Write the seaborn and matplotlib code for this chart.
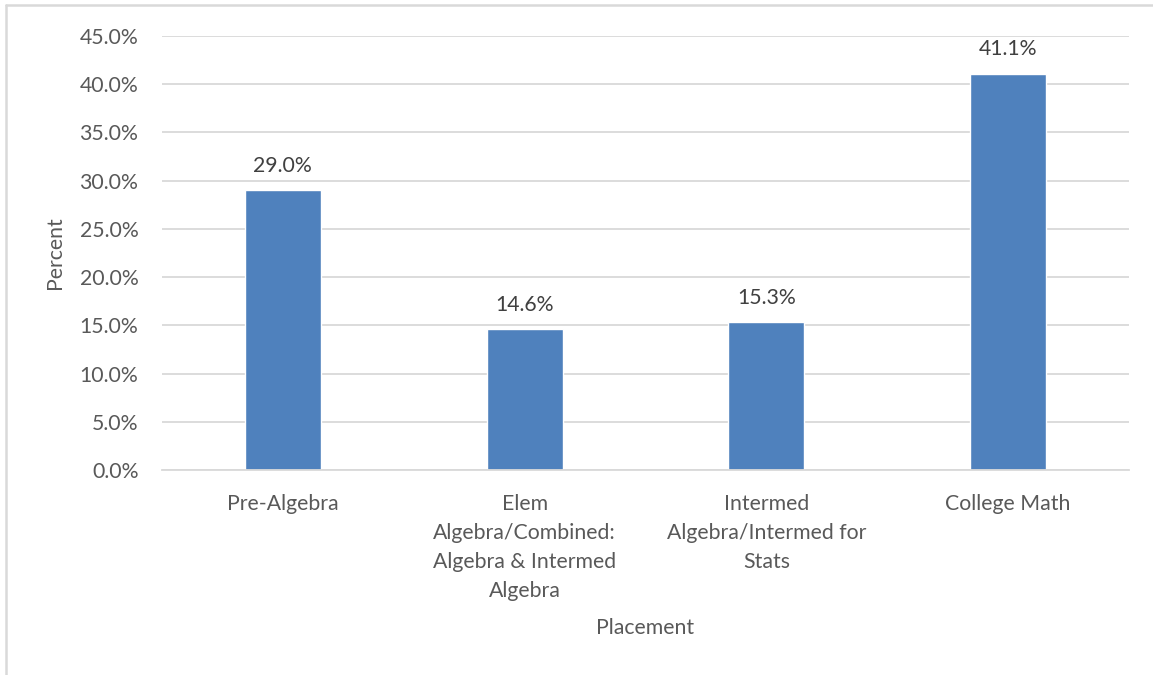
import matplotlib
matplotlib.use("Agg")
import matplotlib.pyplot as plt
from matplotlib.lines import Line2D
from matplotlib.ticker import MultipleLocator, FuncFormatter
import seaborn as sns
import pandas as pd

placements = [
    "Pre-Algebra",
    "Elem\nAlgebra/Combined:\nAlgebra & Intermed\nAlgebra",
    "Intermed\nAlgebra/Intermed for\nStats",
    "College Math",
]
percents = [29.0, 14.6, 15.3, 41.1]

df = pd.DataFrame({"Placement": placements, "Percent": percents})

sns.set_theme(style="white")
plt.rcParams["font.family"] = ["Lato", "DejaVu Sans"]

W, H, DPI = 1153, 675, 100
fig = plt.figure(figsize=(W / DPI, H / DPI), dpi=DPI)
ax = fig.add_axes([162 / W, 1 - 470 / H, (1129 - 162) / W, (470 - 36) / H])

bar_color = "#4F81BD"
sns.barplot(data=df, x="Placement", y="Percent", color=bar_color,
            saturation=1, width=0.315, ax=ax)

ax.set_ylim(0, 45)
ax.set_xlim(-0.5, len(placements) - 0.5)
ax.yaxis.set_major_locator(MultipleLocator(5))
ax.yaxis.set_major_formatter(FuncFormatter(lambda v, _: f"{v:.1f}%"))
ax.grid(axis="y", color="#d9d9d9", linewidth=1.3)
ax.set_axisbelow(True)

for side in ["top", "right", "left"]:
    ax.spines[side].set_visible(False)
ax.spines["bottom"].set_color("#d9d9d9")
ax.spines["bottom"].set_linewidth(1.3)

text_color = "#595959"
ax.tick_params(axis="y", length=0, pad=17, labelsize=15.3, labelcolor=text_color)
ax.tick_params(axis="x", length=0, pad=17, labelsize=15.3, labelcolor=text_color)
for lbl in ax.get_xticklabels():
    lbl.set_linespacing(1.57)

ax.set_ylabel("Percent", fontsize=15.3, color=text_color)
ax.set_xlabel("Placement", fontsize=15.3, color=text_color)
ax.yaxis.set_label_coords(-0.100, 0.5)
ax.xaxis.set_label_coords(0.5, -0.341)

for i, v in enumerate(percents):
    ax.annotate(f"{v:.1f}%", xy=(i, v), xytext=(0, 10.5), textcoords="offset points",
                ha="center", va="bottom", fontsize=15.3, color="#404040")

# chart frame
fig.add_artist(Line2D([6 / W, 6 / W], [0, 1 - 5 / H], transform=fig.transFigure,
                      color="#d9d9d9", linewidth=1.8))
fig.add_artist(Line2D([6 / W, 1], [1 - 5 / H, 1 - 5 / H], transform=fig.transFigure,
                      color="#d9d9d9", linewidth=1.8))

fig.savefig("out.png", dpi=DPI, facecolor="white")
